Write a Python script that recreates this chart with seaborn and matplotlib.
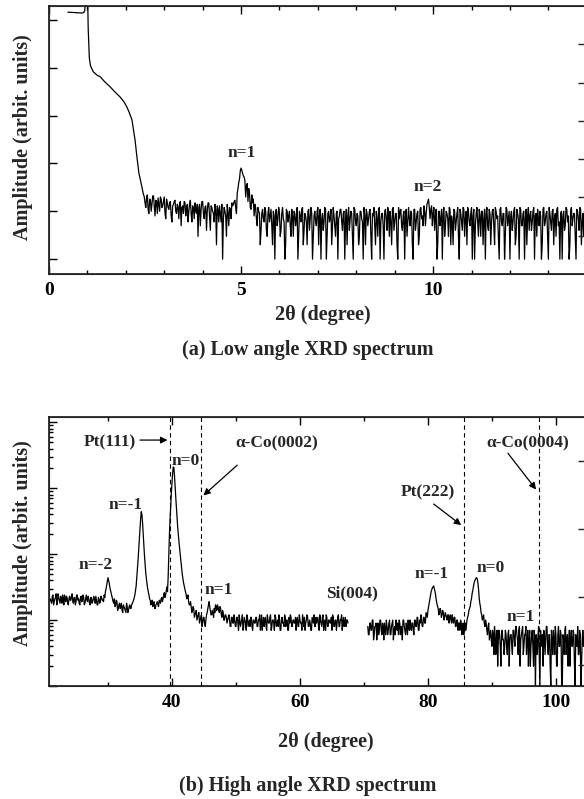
import numpy as np
import pandas as pd
import matplotlib
matplotlib.use('Agg')
import matplotlib.pyplot as plt
import seaborn as sns
from matplotlib.ticker import MultipleLocator, LogLocator, NullLocator, NullFormatter

# ---- (a) low angle scan: smooth part ----
low_x_smooth = [0.49, 0.60, 0.70, 0.80, 0.86, 0.90, 0.93, 0.945, 0.96, 1.00,
                1.02, 1.05, 1.08, 1.15, 1.25, 1.33, 1.45, 1.59, 1.72, 1.85,
                1.95, 2.03, 2.10, 2.16, 2.20, 2.24, 2.29, 2.34, 2.38, 2.42, 2.45]
low_y_smooth = [1.45e5, 1.43e5, 1.41e5, 1.39e5, 1.39e5, 1.42e5, 1.55e5, 2.5e5, 6e5, 6e5,
                6.8e4, 1.6e4, 1.1e4, 8.3e3, 7.0e3, 6.5e3, 5.1e3, 4.0e3, 3.1e3, 2.45e3,
                1.95e3, 1.5e3, 1.1e3, 8.1e2, 5.0e2, 3.1e2, 1.35e2, 63, 45, 32, 24]

# noisy part: readings every 0.04 deg from 2.48 ...
low_step = 0.04
low_start = 2.48
low_noise = [
    20, 12, 22, 9, 17, 14, 21, 8, 16, 19, 10, 18, 13, 20, 7, 15,
    11, 16, 6, 14, 17, 9, 12, 15, 5, 13, 16, 8, 14, 10, 17, 6,
    12, 15, 9, 3, 14, 11, 16, 7, 13, 10, 15, 4, 12, 9, 14, 2,
    11, 13, 6, 1, 12, 8, 14, 5, 11, 15, 14, 17, 9, 30, 48, 80,
    62, 52, 20, 38, 30, 12, 22, 18, 14, 7, 12, 9, 4, 11, 6, 10,
    3, 12, 8, 5, 10, 1, 11, 7, 9, 4, 12, 6, 2, 10, 8, 5,
    11, 3, 9, 7, 1, 10, 6, 12, 4, 8, 2, 11, 7, 9, 3, 10,
    5, 12, 8, 1, 9, 6, 11, 3, 10, 7, 2, 12, 5, 9, 1, 8,
    11, 4, 10, 6, 2, 12, 7, 9, 1, 11, 5, 8, 3, 10, 6, 12,
    2, 9, 7, 11, 1, 8, 5, 10, 3, 12, 6, 9, 1, 11, 4, 8,
    10, 2, 12, 6, 9, 1, 7, 11, 4, 10, 8, 3, 12, 5, 9, 1,
    11, 6, 10, 3, 12, 8, 13, 5, 14, 18, 7, 13, 9, 4, 11, 2,
    10, 7, 1, 12, 5, 9, 3, 11, 8, 2, 10, 6, 12, 1, 9, 4,
    11, 7, 2, 10, 5, 12, 8, 1, 9, 6, 11, 3, 10, 7, 1, 12,
    4, 9, 6, 11, 2, 10, 8, 1, 12, 5, 9, 3, 11, 7, 1, 10,
    6, 12, 3, 9, 1, 11, 5, 10, 7, 2, 12, 8, 4, 10, 1, 9,
    11, 5, 8, 2, 12, 6, 10, 1, 9, 4, 11, 7, 3, 12, 6, 9,
    1, 10, 5, 11, 8, 2, 12, 7, 9, 1, 10, 4, 11, 6, 3, 10,
]
# ... and the readings in between, from 2.50
low_start_mid = 2.50
low_noise_mid = [
    15, 19, 11, 18, 10, 21, 13, 17, 9, 14, 20, 12, 16, 9, 18, 12,
    15, 8, 13, 16, 10, 14, 7, 16, 12, 9, 15, 11, 6, 14, 9, 13,
    7, 10, 14, 12, 5, 16, 9, 12, 4, 15, 8, 13, 10, 6, 11, 13,
    6, 9, 14, 7, 10, 3, 9, 12, 7, 13, 16, 12, 24, 40, 70, 72,
    55, 44, 34, 16, 24, 11, 15, 8, 12, 5, 10, 2, 9, 7, 12, 4,
    9, 6, 11, 2, 8, 10, 5, 12, 3, 9, 7, 1, 11, 6, 10, 3,
    8, 10, 5, 12, 3, 8, 11, 2, 9, 6, 10, 4, 12, 1, 8, 6,
    10, 2, 11, 7, 4, 12, 1, 9, 6, 11, 5, 8, 3, 10, 7, 11,
    6, 9, 1, 11, 8, 4, 10, 3, 12, 6, 9, 2, 10, 7, 1, 8,
    11, 5, 10, 3, 9, 12, 2, 7, 11, 1, 9, 5, 10, 7, 12, 3,
    6, 11, 4, 9, 2, 12, 10, 5, 8, 1, 11, 6, 7, 10, 2, 11,
    4, 9, 2, 11, 7, 5, 10, 9, 16, 12, 11, 5, 12, 8, 1, 10,
    5, 11, 9, 3, 10, 7, 12, 2, 6, 11, 4, 9, 3, 11, 6, 12,
    3, 10, 12, 6, 9, 1, 11, 5, 12, 3, 8, 10, 2, 11, 9, 5,
    11, 2, 10, 5, 12, 7, 3, 11, 6, 9, 1, 12, 5, 10, 8, 4,
    10, 2, 11, 7, 12, 5, 9, 1, 11, 8, 4, 10, 6, 12, 8, 3,
    7, 10, 1, 11, 5, 9, 3, 12, 6, 10, 2, 9, 11, 5, 1, 10,
    8, 4, 12, 6, 1, 10, 5, 9, 3, 11, 7, 12, 2, 9, 10, 5,
]

# ---- (b) high angle scan, two pieces (Si(004) region left out) ----
high_step = 0.2
high_start_a = 21.0
high_a = [
    21, 18, 24, 19, 22, 17, 25, 20, 23, 18, 21, 24, 19, 22, 17, 23,
    20, 25, 18, 22, 19, 24, 21, 17, 23, 20, 22, 18, 24, 19, 21, 17,
    22, 19, 23, 18, 20, 17, 21, 19, 22, 20, 24, 27, 34, 44, 36, 28,
    23, 19, 21, 17, 19, 15, 18, 16, 14, 17, 15, 13, 16, 14, 17, 15,
    18, 20, 24, 33, 58, 115, 240, 440, 300, 130, 70, 42, 30, 24, 20, 18,
    16, 19, 15, 18, 17, 20, 18, 22, 21, 26, 24, 32, 45, 200, 520, 1200,
    2100, 1500, 700, 350, 190, 120, 75, 50, 37, 30, 25, 22, 19, 17, 16, 14,
    15, 12, 14, 11, 13, 10, 12, 9, 11, 8, 12, 15, 19, 14, 12, 13,
    15, 17, 14, 16, 13, 15, 11, 13, 10, 12, 9, 11, 10, 8, 11, 9,
    10, 8, 11, 7, 10, 9, 12, 8, 10, 7, 11, 9, 8, 11, 7, 10,
    9, 11, 8, 10, 7, 12, 9, 8, 11, 7, 10, 9, 12, 8, 10, 7,
    11, 9, 8, 10, 7, 11, 9, 12, 8, 10, 7, 9, 11, 8, 10, 9,
    7, 11, 8, 10, 9, 12, 8, 7, 10, 11, 8, 9, 7, 10, 12, 8,
    9, 11, 7, 10, 8, 12, 9, 7, 11, 8, 10, 9, 7, 11, 8, 10,
    9, 12, 8, 10, 7, 11, 9, 8, 10,
]
high_start_a_mid = 21.1
high_a_mid = [
    19, 23, 17, 21, 25, 19, 22, 18, 20, 24, 17, 21, 23, 18, 21, 20,
    23, 19, 22, 17, 24, 20, 18, 22, 19, 24, 17, 21, 20, 23, 18, 22,
    18, 21, 20, 23, 17, 22, 18, 23, 20, 19, 22, 30, 39, 40, 31, 25,
    21, 18, 16, 20, 14, 17, 15, 18, 13, 16, 14, 18, 13, 16, 15, 17,
    19, 22, 28, 44, 82, 170, 340, 400, 200, 95, 52, 35, 27, 21, 17, 20,
    18, 15, 17, 19, 16, 19, 21, 19, 24, 22, 28, 27, 100, 350, 850, 1700,
    2050, 1000, 480, 250, 150, 95, 60, 43, 33, 27, 21, 24, 17, 19, 13, 16,
    11, 13, 10, 12, 9, 11, 8, 11, 9, 10, 13, 17, 16, 12, 14, 11,
    13, 16, 17, 14, 16, 12, 14, 10, 12, 11, 10, 12, 8, 11, 9, 12,
    8, 11, 9, 12, 8, 10, 7, 11, 9, 12, 8, 10, 11, 8, 10, 9,
    11, 8, 10, 12, 9, 7, 11, 10, 8, 12, 9, 11, 7, 10, 9, 12,
    8, 10, 12, 7, 10, 9, 8, 11, 10, 7, 11, 12, 8, 10, 9, 11,
    10, 8, 12, 9, 7, 10, 11, 9, 12, 8, 10, 7, 11, 9, 8, 11,
    10, 8, 12, 9, 11, 7, 10, 12, 8, 10, 9, 11, 12, 8, 10, 7,
    11, 8, 10, 12, 9, 8, 11, 10, 9,
]
high_start_b = 70.6
high_b = [
    8, 6, 9, 7, 10, 6, 8, 5, 9, 7, 10, 6, 8, 9, 6, 8,
    7, 10, 6, 9, 5, 8, 10, 7, 6, 9, 8, 5, 10, 7, 9, 6,
    8, 10, 7, 9, 6, 10, 8, 11, 7, 9, 10, 8, 11, 9, 12, 14,
    18, 24, 29, 32, 30, 24, 18, 15, 13, 14, 12, 13, 11, 12, 10, 12,
    11, 10, 12, 9, 11, 8, 10, 9, 7, 9, 8, 6, 9, 8, 11, 14,
    16, 21, 28, 36, 41, 44, 37, 22, 16, 12, 11, 9, 10, 7, 8, 5,
    7, 4, 6, 8, 3, 7, 5, 6, 2, 7, 5, 4, 6, 3, 7, 5,
    6, 3, 7, 4, 8, 5, 7, 2, 6, 8, 4, 6, 3, 7, 5, 2,
    6, 4, 7, 1, 5, 6, 3, 7, 4, 2, 6, 5, 8, 3, 6, 1,
    5, 7, 3, 6, 2, 8, 4, 6, 1, 5, 7, 3, 6, 4, 2, 7,
    4, 6, 1, 5, 8, 3, 6, 2, 7, 4, 5,
]
high_start_b_mid = 70.7
high_b_mid = [
    6, 9, 7, 10, 5, 8, 9, 7, 6, 10, 7, 9, 5, 7, 10, 6,
    9, 6, 8, 10, 7, 6, 8, 9, 10, 6, 7, 10, 8, 6, 8, 10,
    7, 8, 9, 7, 10, 8, 11, 7, 10, 12, 8, 11, 9, 13, 11, 16,
    21, 27, 31, 33, 27, 20, 16, 12, 15, 11, 14, 10, 13, 11, 12, 9,
    12, 9, 10, 11, 8, 10, 7, 9, 10, 6, 9, 8, 7, 10, 12, 15,
    19, 25, 32, 39, 43, 42, 30, 18, 13, 10, 12, 8, 9, 6, 9, 6,
    5, 7, 3, 6, 5, 2, 7, 4, 6, 5, 3, 7, 4, 6, 2, 6,
    4, 7, 5, 8, 6, 3, 8, 5, 7, 3, 6, 8, 5, 2, 7, 4,
    7, 2, 5, 6, 3, 8, 1, 5, 6, 7, 3, 8, 4, 6, 2, 7,
    3, 5, 8, 2, 6, 4, 7, 1, 6, 3, 8, 5, 2, 7, 5, 4,
    7, 2, 6, 4, 3, 7, 1, 5, 4, 8, 3,
]

ref_lines = [39.7, 44.5, 85.6, 97.3]   # Pt(111), a-Co(0002), Pt(222), a-Co(0004)

low_labels = [('n=1', 5.03, 2.22), ('n=2', 9.87, 1.51)]
high_labels = [('n=-2', 28.0, 1.83), ('n=-1', 32.7, 2.74), ('n=0', 42.2, 3.42),
               ('n=1', 47.3, 1.45), ('Si(004)', 68.1, 1.41), ('n=-1', 80.6, 1.70),
               ('n=0', 89.8, 1.79), ('n=1', 94.5, 1.05),
               ('Pt(111)', 30.3, 3.70), ('α-Co(0002)', 56.3, 3.68),
               ('Pt(222)', 80.0, 2.94), ('α-Co(0004)', 95.6, 3.68)]
# arrows: (x from, log y from, x to, log y to)
high_arrows = [(35.0, 3.73, 39.3, 3.73), (50.2, 3.35, 44.9, 2.89),
               (80.9, 2.76, 85.2, 2.44), (92.5, 3.53, 96.9, 2.98)]


def scan(start, values, step):
    return start + step * np.arange(len(values))


def style_axis(ax):
    for s in ax.spines.values():
        s.set_linewidth(1.1)
        s.set_color('black')
    ax.tick_params(axis='both', which='both', direction='in', colors='black',
                   top=True, right=False, width=1)
    ax.tick_params(axis='both', which='major', length=6)
    ax.tick_params(axis='both', which='minor', length=3)
    ax.tick_params(axis='x', labelsize=14, pad=6)


sns.set_style('ticks')
plt.rcParams['font.family'] = ['Liberation Serif', 'DejaVu Serif']
plt.rcParams['font.weight'] = 'bold'
plt.rcParams['axes.labelweight'] = 'bold'

fig = plt.figure(figsize=(5.84, 7.99), dpi=100)
W, H = 584, 799
ax1 = fig.add_axes([49 / W, 1 - 274 / H, 537 / W, 268 / H])
ax2 = fig.add_axes([49 / W, 1 - 686 / H, 537 / W, 269 / H])

# ---------- (a) ----------
low_df = pd.DataFrame({
    'two_theta': np.concatenate([low_x_smooth,
                                 scan(low_start, low_noise, low_step),
                                 scan(low_start_mid, low_noise_mid, low_step)]),
    'amp': np.concatenate([low_y_smooth, low_noise, low_noise_mid]),
})
sns.lineplot(data=low_df, x='two_theta', y='amp', ax=ax1, color='black', lw=0.9,
             estimator=None, sort=True)
ax1.set_yscale('log')
ax1.set_ylim(10 ** -0.31, 10 ** 5.29)
ax1.set_xlim(0, 13.98)
ax1.set_xticks([0, 5, 10])
ax1.xaxis.set_minor_locator(MultipleLocator(1))
ax1.set_yticks([1, 10, 100, 1e3, 1e4, 1e5])
ax1.yaxis.set_minor_locator(NullLocator())
ax1.yaxis.set_major_formatter(NullFormatter())
style_axis(ax1)
ax1.set_xlabel('2θ (degree)', fontsize=14.5)
ax1.xaxis.set_label_coords(0.51, -0.115)
ax1.set_ylabel('Amplitude (arbit. units)', fontsize=14.5)
ax1.yaxis.set_label_coords(-0.03, 0.51)
for txt, x, ly in low_labels:
    ax1.text(x, 10 ** ly, txt, ha='center', va='center', fontsize=12.5)

r1 = ax1.twinx()
r1.set_ylim(0, 7)
r1.set_yticks(range(1, 7))
r1.tick_params(axis='y', direction='in', length=6, width=1, labelright=False)
r1.grid(False)

# ---------- (b) ----------
high_df = pd.concat([
    pd.DataFrame({'two_theta': np.concatenate([scan(high_start_a, high_a, high_step),
                                               scan(high_start_a_mid, high_a_mid, high_step)]),
                  'amp': np.concatenate([high_a, high_a_mid]), 'part': 'a'}),
    pd.DataFrame({'two_theta': np.concatenate([scan(high_start_b, high_b, high_step),
                                               scan(high_start_b_mid, high_b_mid, high_step)]),
                  'amp': np.concatenate([high_b, high_b_mid]), 'part': 'b'}),
])
sns.lineplot(data=high_df, x='two_theta', y='amp', units='part', ax=ax2,
             color='black', lw=0.9, estimator=None, sort=True)
for xv in ref_lines:
    ax2.axvline(xv, color='black', lw=0.8, ls=(0, (4, 3)))
ax2.set_yscale('log')
ax2.set_ylim(1, 10 ** 4.08)
ax2.set_xlim(20.78, 104.7)
ax2.set_xticks([40, 60, 80, 100])
ax2.xaxis.set_minor_locator(MultipleLocator(10))
ax2.yaxis.set_major_locator(LogLocator(base=10))
ax2.yaxis.set_minor_locator(LogLocator(base=10, subs=np.arange(2, 10)))
ax2.yaxis.set_major_formatter(NullFormatter())
ax2.yaxis.set_minor_formatter(NullFormatter())
style_axis(ax2)
ax2.set_xlabel('2θ (degree)', fontsize=14.5)
ax2.xaxis.set_label_coords(0.516, -0.17)
ax2.set_ylabel('Amplitude (arbit. units)', fontsize=14.5)
ax2.yaxis.set_label_coords(-0.03, 0.53)
for txt, x, ly in high_labels:
    ax2.text(x, 10 ** ly, txt, ha='center', va='center', fontsize=12.5)
for x0, y0, x1, y1 in high_arrows:
    ax2.annotate('', xy=(x1, 10 ** y1), xytext=(x0, 10 ** y0),
                 arrowprops=dict(arrowstyle='-|>', color='black', lw=0.9,
                                 mutation_scale=10, shrinkA=0, shrinkB=0))

r2 = ax2.twinx()
r2.set_ylim(-0.31, 3.64)
r2.set_yticks([0, 1, 2, 3])
r2.tick_params(axis='y', direction='in', length=6, width=1, labelright=False)
r2.grid(False)

fig.text(0.527, 1 - 350 / H, '(a) Low angle XRD spectrum', ha='center', va='center',
         fontsize=14.5, fontweight='bold')
fig.text(0.527, 1 - 786 / H, '(b) High angle XRD spectrum', ha='center', va='center',
         fontsize=14.5, fontweight='bold')

fig.savefig('out.png', dpi=100)
